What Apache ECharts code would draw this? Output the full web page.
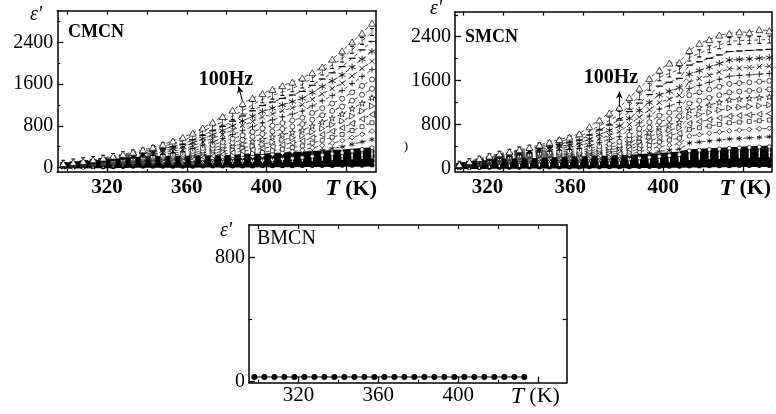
<!DOCTYPE html>
<html><head><meta charset="utf-8">
<script src="https://cdn.jsdelivr.net/npm/echarts@6/dist/echarts.min.js"></script>
<style>html,body{margin:0;padding:0;background:#fff}#c{width:776px;height:414px}</style>
</head><body><div id="c"></div>
<script>
// Temperatures (K)
const TEMPS = [298,303,308,313,318,323,328,333,338,343,348,353,358,363,368,373,378,383,388,393,398,403,408,413,418,423,428,433,438,443,448,453];
const TEMPS_B = [298,303,308,313,318,323,328,333,338,343,348,353,358,363,368,373,378,383,388,393,398,403,408,413,418,423,428,433];

// CMCN: curves from 100 Hz (top) downwards
const cmcn0 = [80,100,120,150,185,220,255,295,340,390,445,510,580,660,760,870,980,1100,1230,1330,1420,1500,1570,1640,1720,1820,1930,2080,2240,2410,2580,2770];
const cmcn1 = [74,97,121,144,168,202,236,271,305,356,407,459,510,602,695,787,880,987,1095,1202,1310,1381,1452,1523,1594,1719,1843,1968,2093,2262,2431,2600];
const cmcn2 = [69,90,112,133,154,184,215,245,275,319,363,406,450,535,620,705,790,890,990,1090,1190,1258,1326,1393,1461,1580,1699,1818,1937,2098,2259,2420];
const cmcn3 = [64,84,103,123,142,169,196,223,250,286,323,359,395,474,553,631,710,801,893,984,1075,1139,1202,1266,1329,1441,1553,1664,1776,1927,2079,2230];
const cmcn4 = [60,78,96,113,131,155,180,204,228,257,287,316,345,418,490,563,635,719,803,886,970,1029,1088,1146,1205,1309,1412,1516,1619,1759,1900,2040];
const cmcn5 = [56,72,89,105,121,143,165,186,208,231,254,277,300,365,430,495,560,635,710,785,860,916,972,1028,1084,1183,1282,1380,1479,1613,1746,1880];
const cmcn6 = [52,67,82,97,112,132,151,171,190,208,226,244,262,319,376,433,490,555,620,685,750,802,854,905,957,1048,1139,1230,1321,1444,1567,1690];
const cmcn7 = [48,62,76,90,104,121,139,156,173,187,201,214,228,277,327,376,425,480,535,590,645,693,740,788,835,919,1003,1086,1170,1283,1397,1510];
const cmcn8 = [45,58,71,83,96,112,127,143,158,168,178,188,198,240,282,323,365,410,455,500,545,589,633,676,720,797,874,951,1028,1132,1236,1340];
const cmcn9 = [42,54,66,77,89,103,117,130,144,151,158,165,172,207,241,276,310,345,380,415,450,490,531,571,611,682,752,823,893,989,1084,1180];
const cmcn10 = [39,50,61,71,82,94,107,119,131,136,141,145,150,178,205,233,260,286,313,339,365,401,437,473,509,573,636,700,763,849,934,1020];
const cmcn11 = [36,46,56,66,76,87,98,108,119,122,126,129,132,153,174,194,215,234,253,271,290,321,353,384,415,470,526,581,636,711,785,860];
const cmcn12 = [33,42,52,61,70,80,89,99,108,110,112,114,116,132,148,164,180,193,205,218,230,256,282,307,333,379,424,470,515,577,638,700];
const cmcn13 = [30,39,47,56,64,73,81,90,98,99,100,101,102,114,126,138,150,158,165,173,180,200,220,239,259,294,329,364,399,446,493,540];
const cmcn14 = [27,35,43,50,58,66,73,81,88,89,89,90,90,99,108,116,125,129,133,136,140,153,167,180,193,216,240,263,286,317,349,380];
// CMCN: dense high-frequency curves (black band)
const cmcnM1 = [63,78,92,107,121,137,153,168,184,188,192,195,199,202,204,207,209,218,226,235,243,253,262,272,281,291,301,310,320,333,346,359];
const cmcnM2 = [55,68,81,93,106,120,134,148,162,165,168,171,174,176,179,181,183,191,198,206,213,222,230,239,247,256,264,273,281,292,304,315];
const cmcnM3 = [47,58,69,80,91,103,115,127,139,142,145,147,150,152,154,155,157,164,170,177,183,190,198,205,212,219,227,234,241,251,260,270];
const cmcnM4 = [40,49,58,67,76,86,96,106,116,118,121,123,125,127,128,130,131,137,142,148,153,159,165,171,177,183,189,195,201,209,218,226];
const cmcnM5 = [32,39,47,54,61,69,77,85,93,95,97,98,100,101,103,104,105,110,114,119,123,128,133,137,142,147,152,157,162,168,175,181];
const cmcnM6 = [24,30,35,41,46,52,58,64,70,72,73,75,76,77,78,79,80,83,87,90,93,97,100,104,107,111,115,118,122,127,132,137];
const cmcnM7 = [16,20,24,27,31,35,40,44,48,49,50,50,51,52,53,53,54,56,59,61,63,66,68,71,73,76,78,81,83,86,90,93];
const cmcnM8 = [8,10,12,14,16,18,20,23,25,26,26,27,27,27,28,28,28,29,31,32,33,34,36,37,38,39,41,42,43,45,46,48];

// SMCN
const smcn0 = [70,125,180,225,265,300,340,380,425,475,525,570,630,760,880,1010,1110,1290,1460,1640,1790,1920,1930,2150,2280,2350,2430,2460,2490,2480,2530,2510];
const smcn1 = [66,112,157,203,248,285,322,358,395,440,486,531,576,675,774,872,971,1143,1316,1488,1660,1730,1800,2022,2097,2171,2246,2320,2328,2335,2343,2350];
const smcn2 = [62,105,147,190,232,266,300,334,368,405,442,479,516,607,698,789,880,1035,1190,1345,1500,1570,1640,1882,1944,2006,2068,2130,2140,2150,2160,2170];
const smcn3 = [58,98,138,178,218,249,280,311,342,371,399,428,456,535,614,692,771,913,1056,1198,1340,1405,1470,1718,1782,1847,1911,1975,1986,1998,2009,2020];
const smcn4 = [55,93,130,168,205,233,262,290,318,340,362,383,405,471,536,602,667,800,934,1067,1200,1265,1330,1578,1637,1697,1756,1815,1828,1840,1853,1865];
const smcn5 = [52,87,123,158,193,219,245,270,296,312,328,344,360,414,468,522,576,702,828,954,1080,1140,1200,1458,1514,1569,1625,1680,1693,1705,1718,1730];
const smcn6 = [49,82,116,149,182,206,229,253,276,287,298,309,320,361,403,444,485,604,723,841,960,1015,1070,1336,1387,1438,1489,1540,1554,1568,1581,1595];
const smcn7 = [46,78,109,141,172,193,215,236,257,264,271,278,285,319,353,386,420,528,635,743,850,900,950,1184,1234,1285,1335,1385,1399,1413,1426,1440];
const smcn8 = [43,73,103,132,162,182,201,221,240,244,248,251,255,283,310,338,365,461,558,654,750,795,840,1062,1109,1156,1203,1250,1264,1278,1291,1305];
const smcn9 = [40,68,97,125,153,170,188,205,222,224,226,228,230,251,273,294,315,400,485,570,655,698,740,940,980,1020,1060,1100,1114,1128,1141,1155];
const smcn10 = [37,64,91,117,144,159,174,189,204,206,207,209,210,225,240,255,270,344,418,491,565,603,640,820,853,885,918,950,963,975,988,1000];
const smcn11 = [34,59,85,110,135,148,161,173,186,188,189,191,192,203,214,224,235,296,358,419,480,515,550,710,740,770,800,830,843,855,868,880];
const smcn12 = [31,55,79,102,126,137,147,158,168,170,172,173,175,183,190,198,205,253,300,348,395,423,450,590,614,638,661,685,696,708,719,730];
const smcn13 = [28,50,73,95,117,125,134,142,150,153,155,158,160,165,170,175,180,211,243,274,305,328,350,460,479,498,516,535,545,555,565,575];
const smcn14 = [25,46,67,87,108,114,120,126,132,135,139,142,145,149,153,156,160,174,188,201,215,233,250,320,331,343,354,365,373,380,388,395];
const smcnM1 = [78,95,112,129,146,151,156,160,165,172,180,187,194,198,202,205,209,220,231,241,252,267,281,320,330,340,349,359,366,374,381,388];
const smcnM2 = [68,83,98,113,128,132,137,141,145,151,158,164,170,173,177,180,183,193,202,212,221,234,247,281,290,298,307,315,321,328,334,340];
const smcnM3 = [58,71,84,97,110,114,117,121,124,130,135,141,146,149,152,154,157,165,174,182,190,201,212,241,248,256,263,270,276,281,287,292];
const smcnM4 = [49,60,71,81,92,95,98,101,104,109,113,118,122,124,127,129,131,138,145,152,159,168,177,201,207,214,220,226,231,235,240,244];
const smcnM5 = [39,48,57,65,74,76,78,81,83,87,91,94,98,100,102,103,105,111,116,122,127,135,142,162,167,172,176,181,185,189,192,196];
const smcnM6 = [30,37,43,50,56,58,60,61,63,66,69,71,74,76,77,79,80,84,88,92,96,102,107,122,126,130,133,137,140,143,145,148];
const smcnM7 = [20,25,29,34,38,39,40,42,43,45,47,48,50,51,52,53,54,57,60,62,65,69,73,83,86,88,91,93,95,97,98,100];
const smcnM8 = [10,13,15,18,20,21,21,22,22,23,24,25,26,27,27,28,28,30,31,33,34,36,38,43,44,46,47,48,49,50,51,52];

// BMCN
const bmcn = [28,28,28,28,28,28,28,28,28,28,28,28,28,28,28,28,28,28,28,28,28,28,28,28,28,28,28,28];

// Tick values
const X_MAJOR = [320,360,400,440];
const X_MINOR = [300,340,380,420];
const X_TOP = [300,320,340,360,380,400,420,440];

const FONT = "'Liberation Serif','DejaVu Serif',serif";
const BLACK = '#000';

const CMCN_CURVES = [cmcn0,cmcn1,cmcn2,cmcn3,cmcn4,cmcn5,cmcn6,cmcn7,cmcn8,cmcn9,cmcn10,cmcn11,cmcn12,cmcn13,cmcn14];
const CMCN_MASS = [cmcnM1,cmcnM2,cmcnM3,cmcnM4,cmcnM5,cmcnM6,cmcnM7,cmcnM8];
const SMCN_CURVES = [smcn0,smcn1,smcn2,smcn3,smcn4,smcn5,smcn6,smcn7,smcn8,smcn9,smcn10,smcn11,smcn12,smcn13,smcn14];
const SMCN_MASS = [smcnM1,smcnM2,smcnM3,smcnM4,smcnM5,smcnM6,smcnM7,smcnM8];

const ASTER = 'path://M5,0V10M0.7,2.5L9.3,7.5M0.7,7.5L9.3,2.5';
const CROSS = 'path://M0,0L10,10M0,10L10,0';
const PLUS = 'path://M5,0V10M0,5H10';
const IBEAM = 'path://M5,0V10M2,0H8M2,10H8';
const STAR = 'path://M5,0L6.2,3.6L10,3.6L7,5.9L8.1,9.5L5,7.3L1.9,9.5L3,5.9L0,3.6L3.8,3.6Z';
const TRI = 'path://M5,0L10,8.7L0,8.7Z';

const STROKE = {color:'rgba(0,0,0,0)', borderColor:BLACK, borderWidth:0.8};
const WHITEB = {color:'#fff', borderColor:BLACK, borderWidth:0.7};
const FILL = {color:BLACK, borderColor:BLACK, borderWidth:0};
const STREAK = {color:'#fff', borderWidth:0};

const CURVE_STYLES = [
  {symbol:TRI, size:[7,6], item:WHITEB},
  {symbol:IBEAM, size:[4,7], item:STROKE},
  {symbol:'rect', size:[7,1.2], item:FILL},
  {symbol:ASTER, size:7, item:STROKE},
  {symbol:CROSS, size:5, item:STROKE},
  {symbol:PLUS, size:6, item:STROKE},
  {symbol:'circle', size:5, item:WHITEB},
  {symbol:'circle', size:5, item:WHITEB},
  {symbol:STAR, size:6, item:WHITEB},
  {symbol:TRI, size:[6,5], rotate:-90, item:WHITEB},
  {symbol:TRI, size:[6,5], rotate:90, item:WHITEB},
  {symbol:'rect', size:4, item:WHITEB},
  {symbol:'diamond', size:5, item:WHITEB},
  {symbol:ASTER, size:5, item:STROKE},
  {symbol:'circle', size:4, item:WHITEB}
];
const MASS_STYLES = [
  {symbol:'rect', size:[1.2,12], item:STREAK},
  {symbol:'circle', size:5, item:FILL},
  {symbol:'rect', size:[1.2,10], item:STREAK},
  {symbol:'rect', size:5, item:FILL},
  {symbol:'triangle', size:5, item:FILL},
  {symbol:'circle', size:5, item:FILL},
  {symbol:'diamond', size:5, item:FILL},
  {symbol:'circle', size:5, item:FILL}
];

// horizontal nudges (px) of x tick labels, as printed in the reference
function xAxes(g, min, max, bold, shifts, margin) {
  const w = bold ? 'bold' : 'normal';
  const tk = shifts.tk || 0;
  const rich = {
    t:{fontFamily:FONT, fontStyle:'italic', fontSize:24, fontWeight:w, color:BLACK, padding:[0,0,0,tk > 0 ? 2*tk : 0]},
    k:{fontFamily:FONT, fontSize:22, fontWeight:w, color:BLACK, padding:[0,tk < 0 ? -2*tk : 0,0,0]}
  };
  X_MAJOR.forEach(v => {
    const s = shifts[v] || 0;
    rich['v' + v] = {fontFamily:FONT, fontSize:21, fontWeight:w, color:BLACK,
      padding:[0, s < 0 ? -2*s : 0, 0, s > 0 ? 2*s : 0]};
  });
  return [
    {type:'value', gridIndex:g, position:'bottom', min, max,
     axisLine:{show:true, onZero:false, lineStyle:{color:BLACK, width:1.5}}, splitLine:{show:false},
     axisTick:{show:true, inside:true, length:6, customValues:X_MAJOR, lineStyle:{color:BLACK, width:1.3}},
     axisLabel:{show:true, customValues:X_MAJOR, margin:margin, color:BLACK, fontFamily:FONT, fontSize:21, fontWeight:w,
       formatter: v => v === 440 ? '{t|T} {k|(K)}' : '{v' + v + '|' + v + '}',
       rich}},
    {type:'value', gridIndex:g, position:'bottom', min, max,
     axisLine:{show:false, onZero:false}, splitLine:{show:false}, axisLabel:{show:false},
     axisTick:{show:true, inside:true, length:3, customValues:X_MINOR, lineStyle:{color:BLACK, width:1.2}}},
    {type:'value', gridIndex:g, position:'top', min, max,
     axisLine:{show:true, onZero:false, lineStyle:{color:BLACK, width:1.5}}, splitLine:{show:false}, axisLabel:{show:false},
     axisTick:{show:true, inside:true, length:4, customValues:X_TOP, lineStyle:{color:BLACK, width:1.2}}}
  ];
}
function yAxes(g, min, max, major, minor, rightTicks) {
  return [
    {type:'value', gridIndex:g, position:'left', min, max,
     axisLine:{show:true, onZero:false, lineStyle:{color:BLACK, width:1.5}}, splitLine:{show:false},
     axisTick:{show:true, inside:true, length:6, customValues:major, lineStyle:{color:BLACK, width:1.3}},
     axisLabel:{show:true, customValues:major, margin:4, color:BLACK, fontFamily:FONT, fontSize:20, formatter: v => String(v)}},
    {type:'value', gridIndex:g, position:'left', min, max,
     axisLine:{show:false, onZero:false}, splitLine:{show:false}, axisLabel:{show:false},
     axisTick:{show:true, inside:true, length:3, customValues:minor, lineStyle:{color:BLACK, width:1.2}}},
    {type:'value', gridIndex:g, position:'right', min, max,
     axisLine:{show:true, onZero:false, lineStyle:{color:BLACK, width:1.5}}, splitLine:{show:false}, axisLabel:{show:false},
     axisTick:{show: rightTicks.length > 0, inside:true, length:4, customValues:rightTicks, lineStyle:{color:BLACK, width:1.2}}}
  ];
}

function pairs(temps, vals) { return temps.map((t, i) => [t, vals[i]]); }

function curveSeries(g, vals, st, extra) {
  return Object.assign({
    type:'line', xAxisIndex:g*3, yAxisIndex:g*3, data:pairs(TEMPS, vals),
    symbol:st.symbol, symbolSize:st.size, symbolRotate:st.rotate || 0,
    showAllSymbol:true, silent:true, animation:false,
    lineStyle:{color:BLACK, width:0.7, type:[4,3]},
    itemStyle:st.item
  }, extra || {});
}
function massSeries(g, vals, st) {
  return {
    type:'line', xAxisIndex:g*3, yAxisIndex:g*3, data:pairs(TEMPS, vals),
    symbol:st.symbol, symbolSize:st.size, showAllSymbol:true, silent:true, animation:false,
    lineStyle:{color:BLACK, width:3}, itemStyle:st.item
  };
}
function arrow(from, to) {
  return {silent:true, animation:false, symbol:['none','arrow'], symbolSize:[5,7],
    lineStyle:{color:BLACK, width:1, type:'solid'}, label:{show:false},
    data:[[{coord:from},{coord:to}]]};
}

const series = [];
function buildPanel(g, curves, mass, arrowFrom, arrowTo) {
  for (let k = mass.length - 1; k >= 0; k--) series.push(massSeries(g, mass[k], MASS_STYLES[k]));
  for (let k = curves.length - 1; k >= 0; k--) {
    const extra = k === 0 ? {markLine: arrow(arrowFrom, arrowTo)} : null;
    series.push(curveSeries(g, curves[k], CURVE_STYLES[k], extra));
  }
}
buildPanel(0, CMCN_CURVES, CMCN_MASS, [388,1272], [386,1560]);
buildPanel(1, SMCN_CURVES, SMCN_MASS, [378,1122], [378,1400]);
series.push({type:'line', xAxisIndex:6, yAxisIndex:6, data:pairs(TEMPS_B, bmcn),
  symbol:'circle', symbolSize:6, showAllSymbol:true, silent:true, animation:false,
  lineStyle:{color:BLACK, width:1}, itemStyle:{color:BLACK}});

function txt(x, y, text, font, align) {
  return {type:'text', x, y, silent:true,
    style:{text, font, fill:BLACK, textAlign:align || 'center', textVerticalAlign:'middle'}};
}

const option = {
  animation:false,
  backgroundColor:'#fff',
  grid:[
    {left:57.3, top:10.7, width:318.7, height:161.3},
    {left:455, top:11.7, width:316.7, height:160},
    {left:249, top:225, width:317.7, height:157.7}
  ],
  xAxis:[
    ...xAxes(0, 295, 455, true, {tk:5}, 5),
    ...xAxes(1, 295.8, 454.2, true, {320:-16, 360:-13, tk:2}, 5),
    ...xAxes(2, 295.3, 454.2, false, {tk:-3}, 2)
  ],
  yAxis:[
    ...yAxes(0, -85, 3010, [0,800,1600,2400], [400,1200,2000,2800], []),
    ...yAxes(1, -62, 2857, [0,800,1600,2400], [400,1200,2000,2800], []),
    ...yAxes(2, -9, 1008, [0,800], [400], [400,800])
  ],
  series,
  graphic:[
    txt(36, 15, "ε'", "italic 20px " + FONT),
    txt(68, 32, 'CMCN', "bold 18px " + FONT, 'left'),
    txt(226, 80, '100Hz', "bold 20px " + FONT),
    txt(436, 9, "ε'", "italic 20px " + FONT),
    txt(465, 37.5, 'SMCN', "bold 18px " + FONT, 'left'),
    txt(611, 78, '100Hz', "bold 20px " + FONT),
    txt(406, 147, ')', "13px " + FONT),
    txt(226, 231, "ε'", "italic 20px " + FONT),
    txt(257, 239, 'BMCN', "20px " + FONT, 'left')
  ]
};
const chart = echarts.init(document.getElementById('c'), null, {renderer:'canvas'});
chart.setOption(option);
</script>
</body></html>
